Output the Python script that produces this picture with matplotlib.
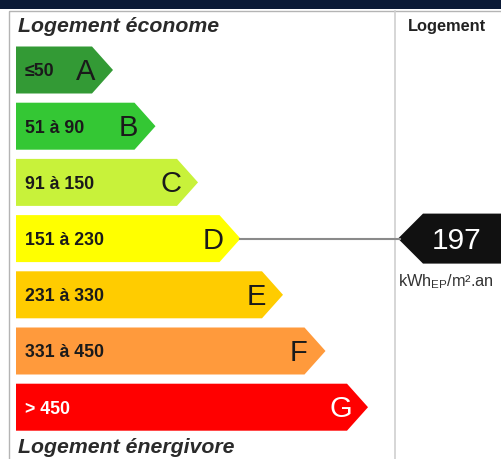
import matplotlib.pyplot as plt
from matplotlib.patches import Polygon, Rectangle

plt.rcParams['font.family'] = ['Liberation Sans', 'DejaVu Sans']

# Classes énergétiques (DPE)
classes = ['A', 'B', 'C', 'D', 'E', 'F', 'G']
ranges = ['≤50', '51 à 90', '91 à 150', '151 à 230', '231 à 330', '331 à 450', '> 450']
upper = [50, 90, 150, 230, 330, 450, 10**9]
colors = ['#339a35', '#34c734', '#c8f23a', '#ffff00', '#ffcc00', '#ff9a3c', '#ff0000']
letter_colors = ['#1a1a1a'] * 6 + ['white']
value = 197
unit = 'kWh$_{\\mathregular{EP}}$/m².an'

fig = plt.figure(figsize=(5.01, 4.60), dpi=100)
ax = fig.add_axes([0, 0, 1, 1])
ax.set_xlim(0, 501)
ax.set_ylim(460, 0)
ax.axis('off')

# bandeau et cadre
ax.add_patch(Rectangle((0, 0), 501, 10, color='#0b1a36', lw=0))
ax.add_patch(Rectangle((9, 12), 600, 500, fill=False, edgecolor='#b4b4b4', lw=1))
ax.plot([395, 395], [12, 460], color='#cfcfcf', lw=1.2)

ax.text(18, 27, 'Logement économe', fontsize=15.3, fontweight='bold', style='italic',
        color='#2a2a2a', va='center', ha='left')
ax.text(18, 448, 'Logement énergivore', fontsize=15.3, fontweight='bold', style='italic',
        color='#2a2a2a', va='center', ha='left')
ax.text(408, 26, 'Logement', fontsize=11.8, fontweight='bold', color='#222222',
        va='center', ha='left')

x0, h, step, dx, notch = 16, 47, 56.2, 42.5, 21
for i, c in enumerate(classes):
    top = 47.5 + i * step
    mid = top + h / 2
    tip = 113 + i * dx
    pts = [(x0, top), (tip - notch, top), (tip, mid), (tip - notch, top + h), (x0, top + h)]
    ax.add_patch(Polygon(pts, closed=True, facecolor=colors[i], edgecolor='none'))
    ax.text(25, mid + 1, ranges[i], fontsize=12.8, fontweight='bold',
            color=letter_colors[i] if i == 6 else '#1a1a1a', va='center', ha='left')
    ax.text(tip - 27, mid + 1, c, fontsize=21, color=letter_colors[i],
            va='center', ha='center')

# indicateur de la valeur
k = next(i for i, u in enumerate(upper) if value <= u)
top = 47.5 + k * step
mid = top + h / 2
tip = 113 + k * dx
ax.plot([tip, 400], [mid, mid], color='#8a8a8a', lw=1.5)
ax.add_patch(Polygon([(398, mid), (423, mid - 25), (520, mid - 25), (520, mid + 25), (423, mid + 25)],
                     closed=True, facecolor='#111111', edgecolor='none'))
ax.text(457, mid + 1, str(value), fontsize=21.5, color='white', va='center', ha='center')
ax.text(398, mid + 42, unit, fontsize=11.8, color='#333333', va='center', ha='left')

fig.savefig('out.png', dpi=100)
